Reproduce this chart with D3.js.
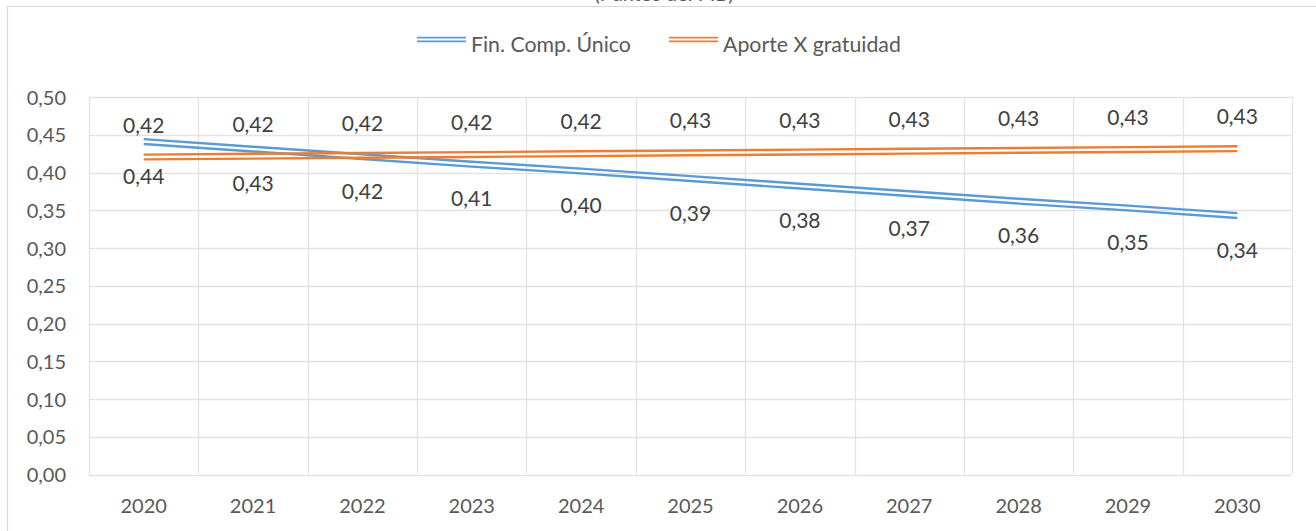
<!DOCTYPE html>
<html>
<head>
<meta charset="utf-8">
<script src="https://cdn.jsdelivr.net/npm/d3@7"></script>
<style>
  body { margin: 0; background: #fff; }
  text { font-family: Lato, "Open Sans", sans-serif; }
</style>
</head>
<body>
<div id="chart"></div>
<script>
// data
var years = ["2020", "2021", "2022", "2023", "2024", "2025", "2026", "2027", "2028", "2029", "2030"];
var finComp = [0.441, 0.431, 0.421, 0.411, 0.402, 0.392, 0.382, 0.372, 0.362, 0.353, 0.343];
var aporteX = [0.4205, 0.4216, 0.4227, 0.4238, 0.4249, 0.4260, 0.4271, 0.4282, 0.4293, 0.4304, 0.4315];
var yTicks = [0, 0.05, 0.10, 0.15, 0.20, 0.25, 0.30, 0.35, 0.40, 0.45, 0.50];
var seriesNames = ["Fin. Comp. Único", "Aporte X gratuidad"];
var titleText = "(Puntos del PIB)";

var W = 1316, H = 531;
var blue = "#5B9BD5", orange = "#ED7D31";
var fmt = function(v) { return d3.format(".2f")(v).replace(".", ","); };

var svg = d3.select("#chart").append("svg")
    .attr("width", W)
    .attr("height", H);

// chart frame (cut at the window edges)
svg.append("path")
    .attr("d", "M7.5," + H + "V6.5H" + W)
    .attr("fill", "none")
    .attr("stroke", "#d9d9d9")
    .attr("stroke-width", 1.2);

// title, mostly out of view like in the source image
svg.append("text")
    .attr("x", 664)
    .attr("y", 1)
    .attr("text-anchor", "middle")
    .attr("font-size", 20)
    .attr("fill", "#595959")
    .text(titleText);

var x = d3.scaleBand().domain(years).range([89, 1292]).padding(0);
var y = d3.scaleLinear().domain([0, 0.5]).range([474.5, 97]);

var grid = svg.append("g").attr("class", "grid");

// horizontal gridlines
grid.selectAll("line.h")
    .data(yTicks)
    .enter().append("line")
    .attr("class", "h")
    .attr("x1", 89).attr("x2", 1292)
    .attr("y1", function(d) { return Math.round(y(d)) + 0.5; })
    .attr("y2", function(d) { return Math.round(y(d)) + 0.5; })
    .attr("stroke", "#e3e3e3")
    .attr("stroke-width", 1.3);

// vertical gridlines at the band edges
var edges = years.map(function(d) { return x(d); }).concat([x.range()[1]]);
grid.selectAll("line.v")
    .data(edges)
    .enter().append("line")
    .attr("class", "v")
    .attr("x1", function(d) { return Math.round(d) + 0.5; })
    .attr("x2", function(d) { return Math.round(d) + 0.5; })
    .attr("y1", y(0.5)).attr("y2", y(0))
    .attr("stroke", "#e3e3e3")
    .attr("stroke-width", 1.3);

// y axis labels
var yAxis = svg.append("g")
    .attr("transform", "translate(66,0)")
    .call(d3.axisLeft(y).tickValues(yTicks).tickFormat(fmt).tickSize(0).tickPadding(0));
yAxis.select(".domain").remove();
yAxis.selectAll("text")
    .attr("font-family", "Lato, sans-serif")
    .attr("font-size", 20)
    .attr("fill", "#595959")
    .attr("dy", "0.36em");

// x axis labels
var xAxis = svg.append("g")
    .attr("transform", "translate(0,474.5)")
    .call(d3.axisBottom(x).tickSize(0).tickPadding(24));
xAxis.select(".domain").remove();
xAxis.selectAll("text")
    .attr("font-family", "Lato, sans-serif")
    .attr("font-size", 20)
    .attr("fill", "#595959");

var line = d3.line()
    .x(function(d, i) { return x(years[i]) + x.bandwidth() / 2; })
    .y(function(d) { return y(d); });

// excel "double" compound line: two thin strokes either side of the data line
function doubleLine(values, color) {
    var g = svg.append("g");
    [-2.4, 2.4].forEach(function(off) {
        g.append("path")
            .attr("d", line(values))
            .attr("transform", "translate(0," + off + ")")
            .attr("fill", "none")
            .attr("stroke", color)
            .attr("stroke-width", 2.4);
    });
}
doubleLine(finComp, blue);
doubleLine(aporteX, orange);

// data labels: blue below, orange above
svg.append("g").selectAll("text")
    .data(finComp)
    .enter().append("text")
    .attr("x", function(d, i) { return x(years[i]) + x.bandwidth() / 2; })
    .attr("y", function(d) { return y(d) + 42; })
    .attr("text-anchor", "middle")
    .attr("font-size", 21)
    .attr("fill", "#404040")
    .text(fmt);

svg.append("g").selectAll("text")
    .data(aporteX)
    .enter().append("text")
    .attr("x", function(d, i) { return x(years[i]) + x.bandwidth() / 2; })
    .attr("y", function(d) { return y(d) - 24.5; })
    .attr("text-anchor", "middle")
    .attr("font-size", 21)
    .attr("fill", "#404040")
    .text(fmt);

// legend
var legendItems = [
    { name: seriesNames[0], color: blue, x: 417 },
    { name: seriesNames[1], color: orange, x: 669 }
];
var legend = svg.append("g").selectAll("g")
    .data(legendItems)
    .enter().append("g")
    .attr("transform", function(d) { return "translate(" + d.x + ",39.5)"; });
legend.each(function(d) {
    var g = d3.select(this);
    [-1.8, 1.8].forEach(function(off) {
        g.append("line")
            .attr("x1", 0).attr("x2", 49)
            .attr("y1", off).attr("y2", off)
            .attr("stroke", d.color)
            .attr("stroke-width", 1.8);
    });
    g.append("text")
        .attr("x", 54)
        .attr("y", 12)
        .attr("font-size", 21.3)
        .attr("fill", "#595959")
        .text(d.name);
});
</script>
</body>
</html>
